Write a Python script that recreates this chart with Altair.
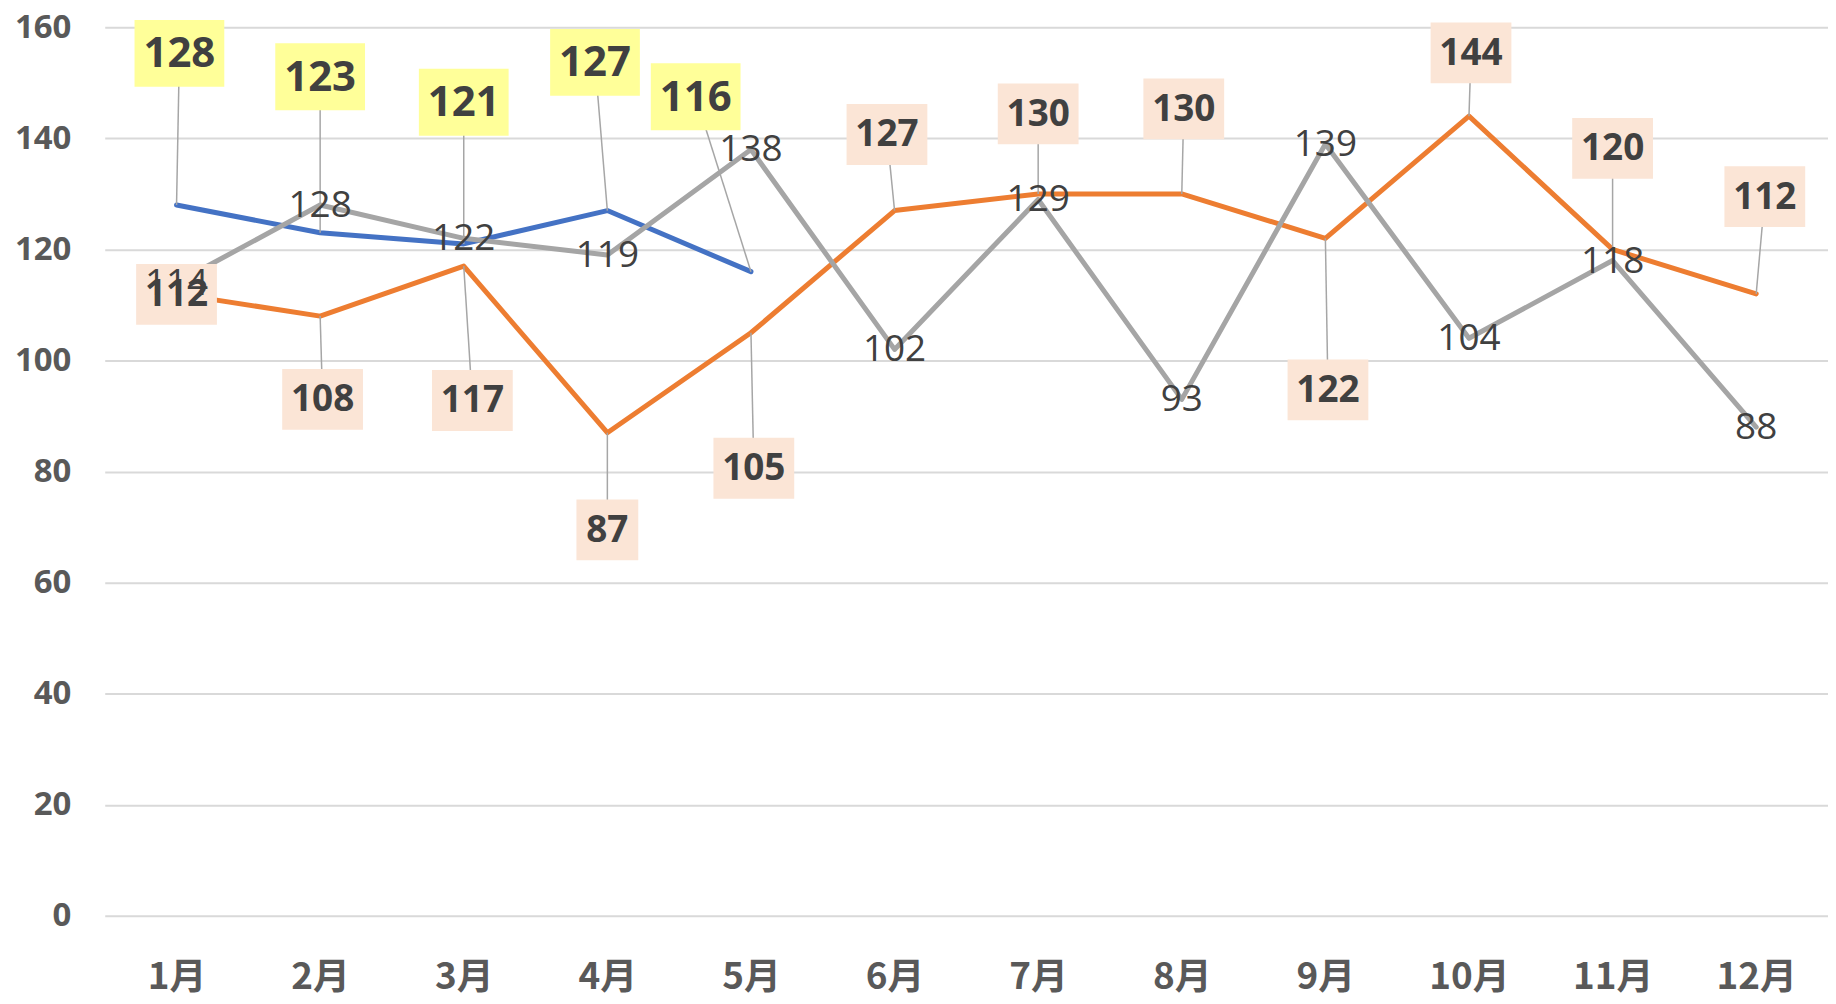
import altair as alt
import pandas as pd

# ---- data ----
months = ["1月", "2月", "3月", "4月", "5月", "6月", "7月", "8月", "9月", "10月", "11月", "12月"]
blue = [128, 123, 121, 127, 116]
orange = [112, 108, 117, 87, 105, 127, 130, 130, 122, 144, 120, 112]
gray = [114, 128, 122, 119, 138, 102, 129, 93, 139, 104, 118, 88]

# label placement (x shift in months, y centre in value units)
blue_lab_dx = [0.02, 0.0, 0.0, -0.086, -0.385]
blue_lab_y = [155.3, 151.1, 146.5, 153.7, 147.5]
orange_lab_dx = [0.0, 0.017, 0.06, 0.0, 0.02, -0.053, 0.0, 0.014, 0.018, 0.014, 0.0, 0.06]
orange_lab_y = [111.9, 93.0, 92.8, 69.5, 80.6, 140.7, 144.4, 145.3, 94.7, 155.4, 138.2, 129.5]

# ---- layout ----
W, H = 1728, 891
XPX = W / 12.0          # px per month
YPX = H / 160.0         # px per value unit

BLUE, ORANGE, GRAY = "#4472C4", "#ED7D31", "#A5A5A5"
YELLOW_BOX, PEACH_BOX = "#FFFF99", "#FBE5D6"
TXT = "#404040"


def line_df(vals):
    return pd.DataFrame({"i": list(range(len(vals))), "v": vals})


def label_df(vals, dxs, ys, box_h, w3, w2, fill):
    rows = []
    for i, (v, dx, ly) in enumerate(zip(vals, dxs, ys)):
        lx = i + dx
        w = w3 if len(str(v)) >= 3 else w2
        rows.append({
            "i": i, "v": v, "lx": lx, "ly": ly, "t": str(v),
            "x0": lx - w / 2 / XPX, "x1": lx + w / 2 / XPX,
            "y0": ly - box_h / 2 / YPX, "y1": ly + box_h / 2 / YPX,
            "fill": fill,
        })
    return pd.DataFrame(rows)


bdf = line_df(blue)
odf = line_df(orange)
gdf = line_df(gray)
blab = label_df(blue, blue_lab_dx, blue_lab_y, 67, 90, 66, YELLOW_BOX)
olab = label_df(orange, orange_lab_dx, orange_lab_y, 61, 81, 62, PEACH_BOX)

label_expr = "[" + ",".join("'%s'" % m for m in months) + "][datum.value]"

xs = alt.Scale(domain=[-0.5, 11.5], nice=False, zero=False)
ys = alt.Scale(domain=[0, 160], nice=False, zero=True)

x_axis = alt.Axis(
    values=list(range(12)), labelExpr=label_expr, title=None, grid=False,
    domain=False, ticks=False, tickSize=0, labelPadding=62, labelBaseline="middle",
    labelFont="Noto Sans CJK JP", labelFontWeight="bold", labelFontSize=37,
    labelColor="#595959",
)
y_axis = alt.Axis(
    values=list(range(0, 161, 20)), title=None, grid=True, gridColor="#D9D9D9",
    gridWidth=2, domain=False, ticks=False, tickSize=0, labelPadding=34,
    labelFont="Open Sans", labelFontWeight="bold", labelFontSize=33,
    labelColor="#595959", labelBaseline="middle",
)


def X(field):
    return alt.X(field, scale=xs, axis=x_axis)


def Y(field):
    return alt.Y(field, scale=ys, axis=y_axis)


def line_layer(df, color):
    return alt.Chart(df).mark_line(
        color=color, strokeWidth=5, strokeJoin="round", strokeCap="round"
    ).encode(x=X("i:Q"), y=Y("v:Q"))


def leader_layer(df):
    return alt.Chart(df).mark_rule(color="#A6A6A6", strokeWidth=1.5).encode(
        x=X("i:Q"), y=Y("v:Q"), x2="lx:Q", y2="ly:Q",
    )


def box_layer(df):
    return alt.Chart(df).mark_rect().encode(
        x=X("x0:Q"), x2="x1:Q", y=Y("y0:Q"), y2="y1:Q",
        fill=alt.Fill("fill:N", scale=None),
    )


def box_text(df, size):
    return alt.Chart(df).mark_text(
        font="Open Sans", fontWeight="bold", fontSize=size, color=TXT,
        align="center", baseline="middle", dy=1,
    ).encode(x=X("lx:Q"), y=Y("ly:Q"), text="t:N")


gray_text = alt.Chart(gdf).mark_text(
    font="Open Sans", fontSize=37, color=TXT, align="center", baseline="middle", dy=1,
).encode(x=X("i:Q"), y=Y("v:Q"), text="v:Q")

chart = alt.layer(
    line_layer(bdf, BLUE),
    line_layer(odf, ORANGE),
    line_layer(gdf, GRAY),
    leader_layer(blab),
    leader_layer(olab),
    box_layer(blab),
    box_layer(olab),
    box_text(blab, 42),
    box_text(olab, 37),
    gray_text,
).properties(
    width=W, height=H,
    background="white",
    autosize=alt.AutoSizeParams(type="none"),
    padding={"left": 97, "top": 18, "right": 0, "bottom": 84},
).configure_view(strokeWidth=0, stroke="transparent").configure_axis(
    domain=False, ticks=False
)

chart.save("out.html", embed_options={"renderer": "svg", "actions": False})
